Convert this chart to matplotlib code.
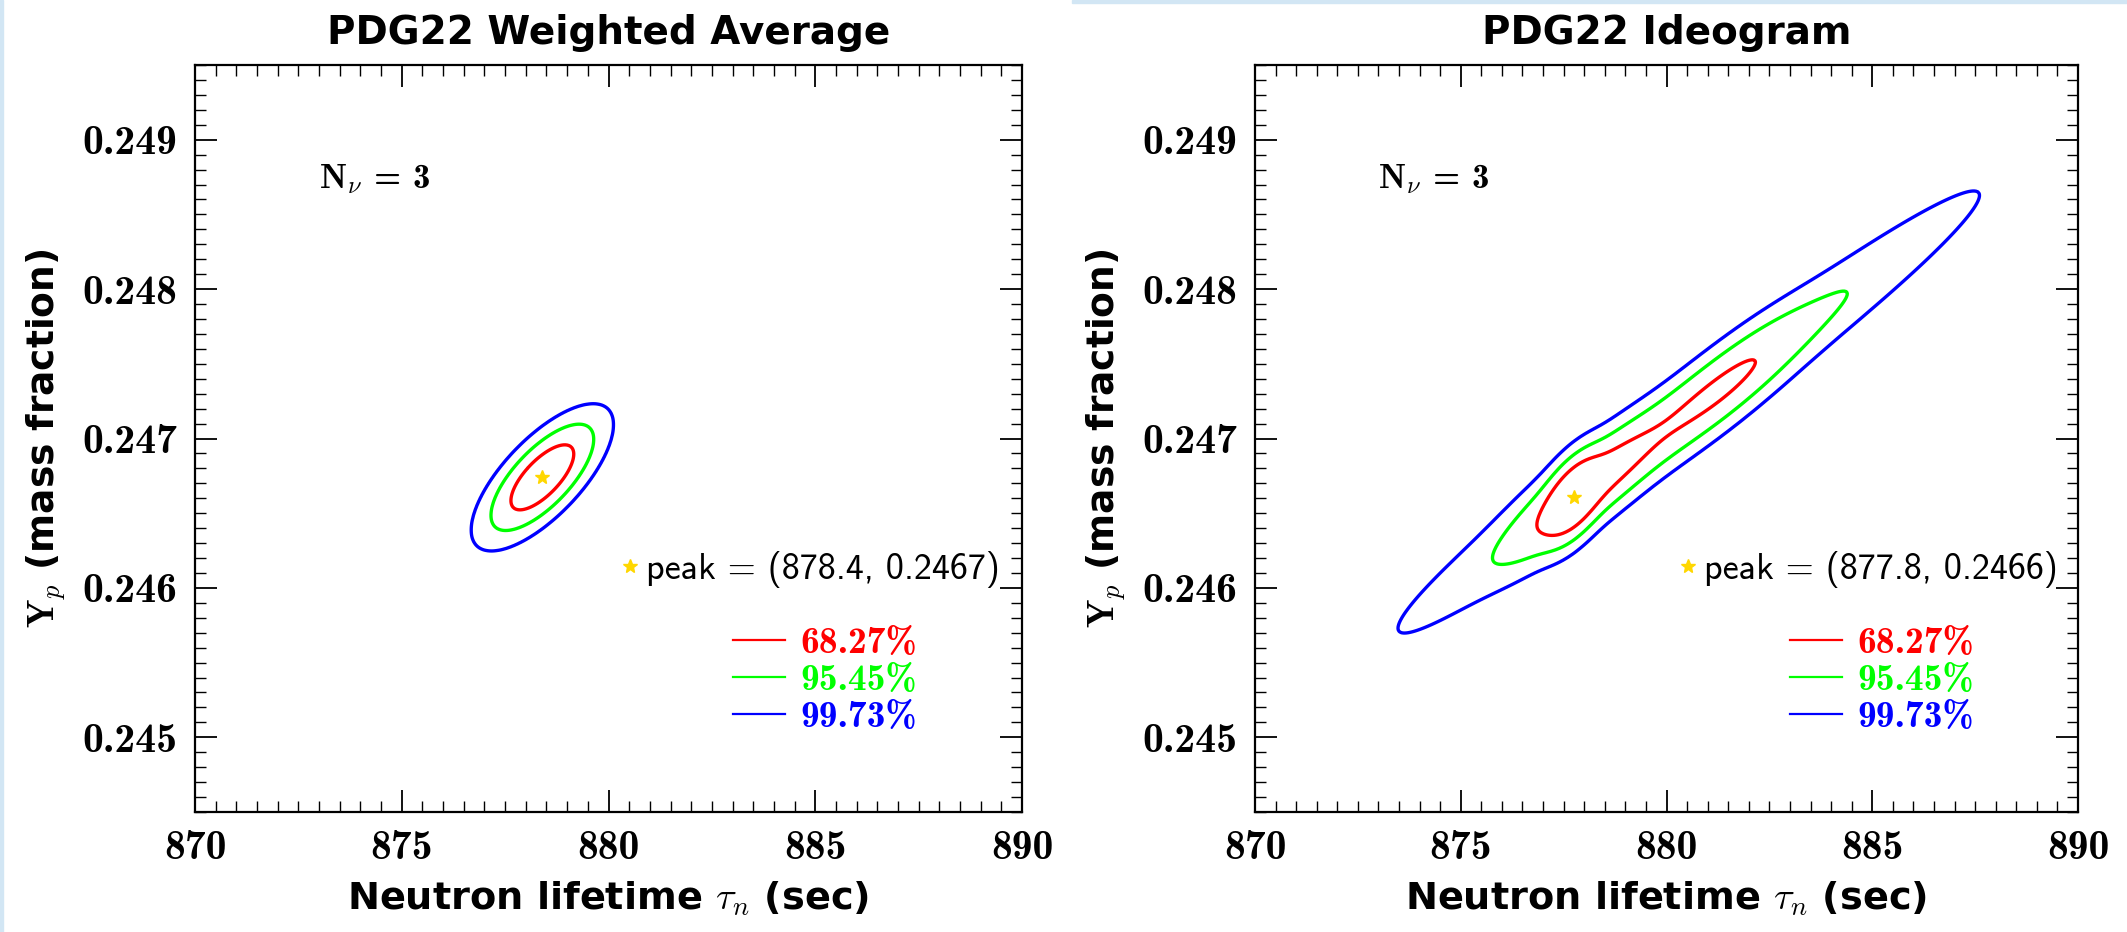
import numpy as np
import matplotlib
matplotlib.use("Agg")
import matplotlib.pyplot as plt
from matplotlib.lines import Line2D
from matplotlib.patches import Rectangle
from matplotlib.ticker import MultipleLocator, FixedLocator, FuncFormatter

plt.rcParams["mathtext.fontset"] = "cm"
plt.rcParams["font.family"] = ["DejaVu Sans"]
plt.rcParams["axes.unicode_minus"] = False

# PDG 2022 bottle-method neutron lifetime inputs (s): central values and total errors
tau_meas = [877.75, 881.5, 877.7, 878.3, 880.2, 882.5, 880.7, 878.5]
tau_err = [0.34, 0.92, 0.78, 1.89, 1.20, 2.05, 1.77, 0.76]

# PDG 2022 weighted average
tau_avg = 878.4
tau_avg_err = 0.5

# BBN helium yield as a function of the lifetime
tau_ref = 878.4
yp_ref = 0.24674
dyp_dtau = 0.000205
yp_theory_err = 0.00010

cl_values = [0.6827, 0.9545, 0.9973]
cl_labels = ["68.27%", "95.45%", "99.73%"]
cl_colors = ["red", "lime", "blue"]

x_ticks = [870, 875, 880, 885, 890]
y_ticks = [0.245, 0.246, 0.247, 0.248, 0.249]
x_range = (870, 890)
y_range = (0.2445, 0.2495)

titles = ["PDG22 Weighted Average", "PDG22 Ideogram"]

# evaluation grid
tau_grid = np.linspace(860.0, 900.0, 1001)
yp_grid = np.linspace(0.2420, 0.2520, 1001)
T, Y = np.meshgrid(tau_grid, yp_grid)


def yp_band(T, Y):
    centre = yp_ref + dyp_dtau * (T - tau_ref)
    return np.exp(-0.5 * ((Y - centre) / yp_theory_err) ** 2)


def gauss(x, mu, sig):
    return np.exp(-0.5 * ((x - mu) / sig) ** 2) / (sig * np.sqrt(2 * np.pi))


def hpd_levels(p, cls):
    flat = np.sort(p.ravel())[::-1]
    cum = np.cumsum(flat)
    cum /= cum[-1]
    return [flat[np.searchsorted(cum, c)] for c in cls]


dens_avg = gauss(T, tau_avg, tau_avg_err) * yp_band(T, Y)
ideogram = sum(gauss(T, m, s) / s for m, s in zip(tau_meas, tau_err))
dens_ideo = ideogram * yp_band(T, Y)

fig = plt.figure(figsize=(21.27, 9.32), dpi=100)
W, H = 2127.0, 932.0

# thin frame strips along the image border
fig.patches.append(Rectangle((0, 0), 3 / W, 1, transform=fig.transFigure,
                             color="#d2e6f4", zorder=-5))
fig.patches.append(Rectangle((1072 / W, 1 - 3 / H), 1 - 1072 / W, 3 / H,
                             transform=fig.transFigure, color="#d2e6f4", zorder=-5))

ax_l = fig.add_axes([195 / W, 1 - 812 / H, 827 / W, 747 / H])
ax_r = fig.add_axes([1255 / W, 1 - 812 / H, 823 / W, 747 / H])

for ax, dens, title in zip([ax_l, ax_r], [dens_avg, dens_ideo], titles):
    lv = hpd_levels(dens, cl_values)
    order = np.argsort(lv)
    ax.contour(T, Y, dens, levels=[lv[i] for i in order],
               colors=[cl_colors[i] for i in order], linewidths=2.4)

    k = np.argmax(dens)
    tp, yp = T.flat[k], Y.flat[k]
    ax.plot([tp], [yp], ls="none", marker="*", color="gold", markersize=10)

    ax.set_xlim(*x_range)
    ax.set_ylim(*y_range)
    ax.xaxis.set_major_locator(FixedLocator(x_ticks))
    ax.yaxis.set_major_locator(FixedLocator(y_ticks))
    ax.xaxis.set_minor_locator(MultipleLocator(0.5))
    ax.yaxis.set_minor_locator(MultipleLocator(0.0001))
    ax.xaxis.set_major_formatter(FuncFormatter(lambda v, p: "%d" % round(v)))
    ax.yaxis.set_major_formatter(FuncFormatter(lambda v, p: "%.3f" % v))
    ax.tick_params(which="both", direction="in", top=True, right=True,
                   labelsize=30, pad=13, labelfontfamily="cmb10")
    ax.tick_params(which="major", length=16, width=1.3)
    ax.tick_params(which="minor", length=8, width=1.0)
    for s in ax.spines.values():
        s.set_linewidth(1.6)

    ax.set_title(title, fontsize=28, fontweight="bold", pad=15)
    ax.set_xlabel(r"Neutron lifetime $\tau_n$ (sec)", fontsize=27.5,
                  fontweight="bold", labelpad=9)
    ax.set_ylabel(r"$\mathbf{Y}_p$ (mass fraction)", fontsize=27,
                  fontweight="bold", labelpad=10)

    ax.text(0.15, 0.835, r"$\mathbf{N}_\nu$ = 3", transform=ax.transAxes,
            fontsize=25, family="cmb10", ha="left", va="baseline")

    peak_handle = Line2D([], [], ls="none", marker="*", color="gold", markersize=10)
    leg1 = ax.legend([peak_handle], ["peak = (%.1f, %.4f)" % (tp, yp)],
                     loc="center left", bbox_to_anchor=(0.5127, 0.325),
                     frameon=False, prop={"family": "cmss10", "size": 26},
                     borderpad=0, borderaxespad=0,
                     handlelength=0.6, handletextpad=0.15)
    ax.add_artist(leg1)

    line_handles = [Line2D([], [], color=c, lw=1.6) for c in cl_colors]
    ax.legend(line_handles, cl_labels, labelcolor=cl_colors, loc="center left",
              bbox_to_anchor=(0.6505, 0.1767), frameon=False,
              prop={"family": "cmb10", "size": 27},
              borderpad=0, borderaxespad=0, handlelength=1.39,
              handletextpad=0.4, labelspacing=0.1)

fig.savefig("out.png", dpi=100)
